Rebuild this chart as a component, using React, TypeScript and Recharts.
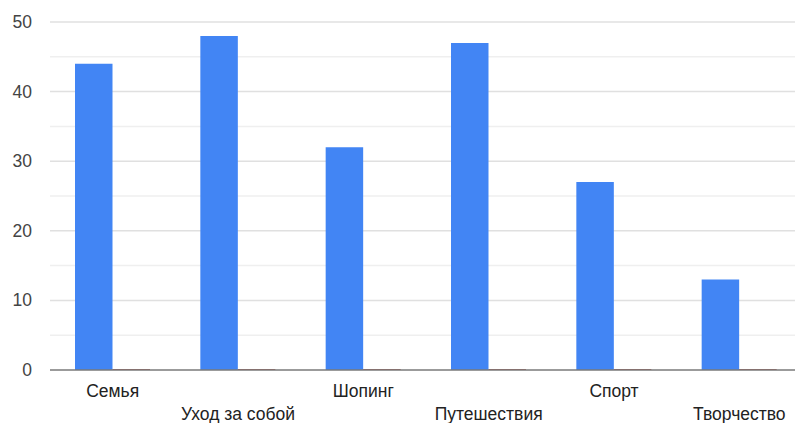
import React from "react";
import { BarChart, Bar, XAxis, YAxis, CartesianGrid } from "recharts";

// Interest categories and their scores
const categories = ["Семья", "Уход за собой", "Шопинг", "Путешествия", "Спорт", "Творчество"];
const scores = [44, 48, 32, 47, 27, 13];
const secondary = [0, 0, 0, 0, 0, 0];

// Value axis: a line every 5, labelled every 10
const yTicks = [0, 5, 10, 15, 20, 25, 30, 35, 40, 45, 50];

const data = categories.map((name, i) => ({
  name,
  score: scores[i],
  extra: secondary[i],
}));

const FONT = "Arial, 'Liberation Sans', sans-serif";

const YTick = ({ x, y, payload }: any) =>
  payload.value % 10 === 0 ? (
    <text x={x - 10} y={y + 6} textAnchor="end" fontSize={17.5} fontFamily={FONT} fill="#444">
      {payload.value}
    </text>
  ) : null;

// Category labels alternate between two rows so they don't overlap
const XTick = ({ x, y, payload, index }: any) => (
  <text
    x={x}
    y={y + (index % 2 === 0 ? 19 : 42)}
    textAnchor="middle"
    fontSize={17.5}
    fontFamily={FONT}
    fill="#222"
  >
    {payload.value}
  </text>
);

// Major lines darker, in-between ones lighter; skip the baseline (the axis draws it)
const GridLine = (props: any) => {
  const { x1, x2, y1, y2, index } = props;
  if (index === 0) return <g key={props.key} />;
  const major = index % 2 === 0;
  return (
    <line
      key={props.key}
      x1={x1}
      x2={x2}
      y1={y1}
      y2={y2}
      stroke={major ? "#e0e0e0" : "#efefef"}
      strokeWidth={1.5}
    />
  );
};

export default function App() {
  return (
    <div style={{ position: "absolute", left: 0, top: 0, width: 795, height: 423, overflow: "hidden", background: "#fff" }}>
      <BarChart
        width={802}
        height={423}
        data={data}
        margin={{ top: 22, right: 0, left: 0, bottom: 0 }}
        barGap={0}
        barSize={37.5}
      >
        <CartesianGrid vertical={false} horizontal={GridLine} />
        <XAxis
          dataKey="name"
          height={53}
          interval={0}
          tickLine={false}
          axisLine={{ stroke: "#7a7a7a", strokeWidth: 1.5 }}
          tick={<XTick />}
        />
        <YAxis
          width={50}
          domain={[0, 50]}
          ticks={yTicks}
          interval={0}
          tickLine={false}
          axisLine={false}
          tick={<YTick />}
        />
        <Bar dataKey="score" fill="#4285f4" isAnimationActive={false} />
        <Bar dataKey="extra" fill="#a8534c" minPointSize={1} isAnimationActive={false} />
      </BarChart>
    </div>
  );
}
